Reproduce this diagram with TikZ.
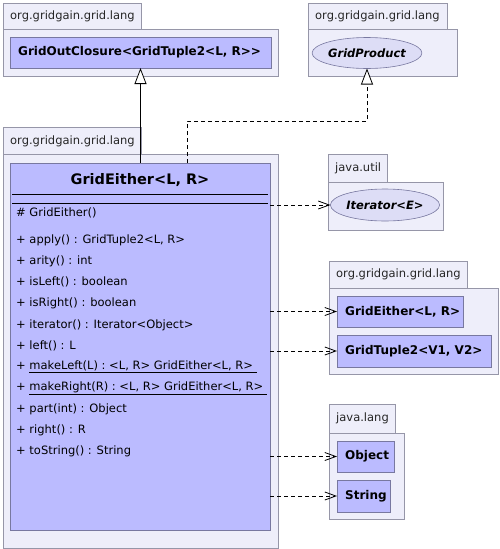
\documentclass[tikz,border=0pt]{standalone}
\usepackage{fontspec}
\setmainfont{DejaVu Sans}
\usetikzlibrary{arrows.meta,shapes.geometric}
\definecolor{pkgfill}{RGB}{238,238,250}
\definecolor{pkgdraw}{RGB}{150,150,168}
\definecolor{clsfill}{RGB}{187,187,255}
\definecolor{clsdraw}{RGB}{120,120,160}
\definecolor{ellfill}{RGB}{221,221,246}
\begin{document}
\begin{tikzpicture}[x=1pt,y=-1pt,
  font=\fontsize{11.5}{13}\selectfont,
  pkg/.style={draw=pkgdraw, fill=pkgfill, line width=0.8pt, inner sep=0pt, outer sep=0pt, anchor=north west},
  cls/.style={draw=clsdraw, fill=clsfill, line width=0.8pt, inner sep=0pt, outer sep=0pt, anchor=north west},
  ell/.style={ellipse, draw=clsdraw, fill=ellfill, line width=0.6pt, inner sep=0pt, outer sep=0pt, font=\fontsize{11.5}{14}\selectfont\bfseries\itshape},
  lbl/.style={anchor=west, inner sep=0pt, text=black!85},
  mem/.style={anchor=west, inner sep=0pt},
  cname/.style={font=\fontsize{12}{14}\selectfont\bfseries, inner sep=0pt},
  gen/.style={line width=0.8pt, -{Triangle[length=16pt,width=12pt,fill=white,line width=0.8pt]}},
  dep/.style={line width=0.8pt, dash pattern=on 4pt off 3pt, -{Straight Barb[length=11pt,width=8pt,line width=0.8pt]}},
  real/.style={line width=0.8pt, dash pattern=on 4pt off 3pt, -{Triangle[length=16pt,width=12pt,fill=white,line width=0.8pt,sep=0pt]}}
]
\useasboundingbox (0,0) rectangle (500,549);
\fill[white] (0,0) rectangle (500,549);

% package 1 : GridOutClosure
\node[pkg, minimum width=275, minimum height=47] (p1body) at (3,29) {};
\node[pkg, minimum width=138, minimum height=26] (p1tab) at (3,3) {};
\node[lbl] (p1lbl) at (10,16) {org.gridgain.grid.lang};
\node[cls, minimum width=261, minimum height=31] (goc) at (10,37) {};
\node[cname, anchor=west] (gocname) at (18,52.5) {GridOutClosure<GridTuple2<L, R>{}>};

% package 2 : GridProduct
\node[pkg, minimum width=149, minimum height=47] (p2body) at (308,29) {};
\node[pkg, minimum width=139, minimum height=26] (p2tab) at (308,3) {};
\node[lbl] (p2lbl) at (315,16) {org.gridgain.grid.lang};
\node[ell, minimum width=102, minimum height=31] (gp) at (367,53) {GridProduct};

% package 3 : GridEither
\node[pkg, minimum width=275, minimum height=394] (p3body) at (3,154) {};
\node[pkg, minimum width=138, minimum height=27] (p3tab) at (3,127) {};
\node[lbl] (p3lbl) at (10,141) {org.gridgain.grid.lang};
\node[cls, minimum width=260, minimum height=367] (cls) at (10,163) {};
\node[cname, font=\fontsize{14.5}{16}\selectfont\bfseries] (clsname) at (140,180) {GridEither<L, R>};
\draw[line width=0.8pt] ([shift={(2,31)}]cls.north west) -- ([shift={(-2,31)}]cls.north east);
\draw[line width=0.8pt] ([shift={(2,40)}]cls.north west) -- ([shift={(-2,40)}]cls.north east);
\node[mem] (m0) at (16,213) {\# GridEither()};
\node[mem] (m1) at (16,240) {+ apply() : GridTuple2<L, R>};
\node[mem] (m2) at (16,261) {+ arity() : int};
\node[mem] (m3) at (16,282) {+ isLeft() : boolean};
\node[mem] (m4) at (16,303) {+ isRight() : boolean};
\node[mem] (m5) at (16,325) {+ iterator() : Iterator<Object>};
\node[mem] (m6) at (16,346) {+ left() : L};
\node[mem] (m7) at (16,367) {+ \underline{makeLeft(L) : <L, R> GridEither<L, R>\ }};
\node[mem] (m8) at (16,388) {+ \underline{makeRight(R) : <L, R> GridEither<L, R>\ }};
\node[mem] (m9) at (16,409) {+ part(int) : Object};
\node[mem] (m10) at (16,430) {+ right() : R};
\node[mem] (m11) at (16,451) {+ toString() : String};

% package 4 : java.util
\node[pkg, minimum width=115, minimum height=48] (p4body) at (328,182) {};
\node[pkg, minimum width=59, minimum height=28] (p4tab) at (328,154) {};
\node[lbl] (p4lbl) at (335,168) {java.util};
\node[ell, minimum width=98, minimum height=32] (itr) at (385,205) {Iterator<E>};

% package 5 : org.gridgain.grid.lang (right)
\node[pkg, minimum width=169, minimum height=86] (p5body) at (329,288) {};
\node[pkg, minimum width=138, minimum height=27] (p5tab) at (329,261) {};
\node[lbl] (p5lbl) at (336,274.5) {org.gridgain.grid.lang};
\node[cls, minimum width=126, minimum height=31] (ge) at (337,296) {};
\node[cname, anchor=west] (gename) at (345,311.5) {GridEither<L, R>};
\node[cls, minimum width=154, minimum height=32] (gt) at (337,335) {};
\node[cname, anchor=west] (gtname) at (345,351) {GridTuple2<V1, V2>};

% package 6 : java.lang
\node[pkg, minimum width=75, minimum height=86] (p6body) at (329,433) {};
\node[pkg, minimum width=66, minimum height=29] (p6tab) at (329,404) {};
\node[lbl] (p6lbl) at (336,418.5) {java.lang};
\node[cls, minimum width=57, minimum height=31] (obj) at (337,441) {};
\node[cname, anchor=west] (objname) at (345,456.5) {Object};
\node[cls, minimum width=53, minimum height=32] (str) at (337,480) {};
\node[cname, anchor=west] (strname) at (345,496) {String};

% connectors
\draw[gen] (goc.south |- cls.north) -- (goc.south);
\coordinate (bend) at (187,121);
\draw[real] (bend |- cls.north) -- (bend) -| (gp.south);
\draw[dep] (cls.east |- itr.west) -- (itr.west);
\draw[dep] (cls.east |- ge.west) -- (ge.west);
\draw[dep] (cls.east |- gt.west) -- (gt.west);
\draw[dep] (cls.east |- obj.west) -- (obj.west);
\draw[dep] (cls.east |- str.west) -- (str.west);
\end{tikzpicture}
\end{document}
